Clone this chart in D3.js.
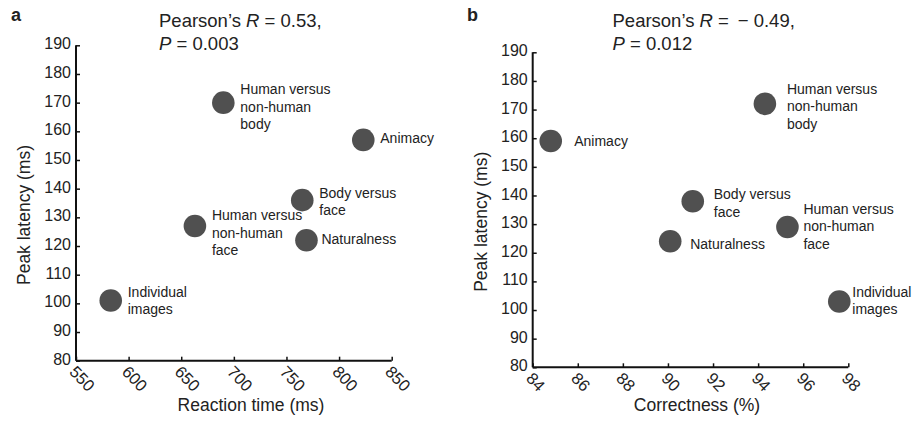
<!DOCTYPE html>
<html>
<head>
<style>
body { margin: 0; background: #fff; }
svg text { font-family: "Liberation Sans", Arial, Helvetica, sans-serif; fill: #222; }
.axis path, .axis line { stroke: #111; }
.axis path { stroke-width: 2px; }
.axis line { stroke-width: 1.5px; }
</style>
</head>
<body>
<svg id="chart" width="914" height="421"></svg>
<script src="https://d3js.org/d3.v7.min.js"></script>
<script>
    // point labels, same order in both panels
    const labelLines = [
        ["Human versus", "non-human", "body"],
        ["Animacy"],
        ["Body versus", "face"],
        ["Human versus", "non-human", "face"],
        ["Naturalness"],
        ["Individual", "images"]
    ];
    // panel a
    const reactionTime = [690, 823, 765, 663, 769, 583];
    const latencyA = [170, 157, 136, 127, 122, 101];
    // panel b
    const correctness = [94.3, 84.8, 91.1, 95.3, 90.1, 97.6];
    const latencyB = [172, 159, 138, 129, 124, 103];

    const xTicksA = [550, 600, 650, 700, 750, 800, 850];
    const xTicksB = [84, 86, 88, 90, 92, 94, 96, 98];
    const yTicks = [80, 90, 100, 110, 120, 130, 140, 150, 160, 170, 180, 190];

    const svg = d3.select("#chart");

    // layout per panel, label nudges are [dx, dy] from the dot centre
    const panels = [
        {letter: "a", lx: 11, left: 76, right: 391.7, top: 45.3, bottom: 360.7,
         xs: reactionTime, ys: latencyA, xDomain: [550, 850], xTicks: xTicksA,
         xTitle: "Reaction time (ms)", xTitleX: 251, r: "0.53,", p: "0.003", tx: 159, yTitleX: 30,
         nudge: [[17, 4], [17, -1.5], [17, 1.5], [17, 7], [15, -1], [17, 0]]},
        {letter: "b", lx: 467, left: 532.7, right: 848.3, top: 52.3, bottom: 367.3,
         xs: correctness, ys: latencyB, xDomain: [84, 98], xTicks: xTicksB,
         xTitle: "Correctness (%)", xTitleX: 697, r: "\u2009\u2212 0.49,", p: "0.012", tx: 612.5, yTitleX: 487,
         nudge: [[22, 2.5], [23.5, 0], [21, 2], [16, -0.5], [20, 3], [13, -1]]}
    ];

    panels.forEach(pn => {
        const x = d3.scaleLinear().domain(pn.xDomain).range([pn.left, pn.right]);
        const y = d3.scaleLinear().domain([80, 190]).range([pn.bottom, pn.top]);
        const g = svg.append("g");

        // panel letter
        g.append("text").attr("x", pn.lx).attr("y", 21)
            .attr("font-size", "18px").attr("font-weight", "bold").text(pn.letter);

        // statistics title
        const t1 = g.append("text").attr("x", pn.tx).attr("y", 27).attr("font-size", "18.5px");
        t1.append("tspan").text("Pearson\u2019s ");
        t1.append("tspan").attr("font-style", "italic").text("R");
        t1.append("tspan").text(" = " + pn.r);
        const t2 = g.append("text").attr("x", pn.tx).attr("y", 50).attr("font-size", "18.5px");
        t2.append("tspan").attr("font-style", "italic").text("P");
        t2.append("tspan").text(" = " + pn.p);

        // y axis
        const ya = g.append("g").attr("class", "axis")
            .attr("transform", `translate(${pn.left},0)`)
            .call(d3.axisLeft(y).tickValues(yTicks).tickSize(-4).tickSizeOuter(0).tickPadding(5));
        ya.selectAll("text").attr("font-size", "16px").attr("fill", "#222").attr("dy", "0.22em");

        // x axis
        const xa = g.append("g").attr("class", "axis")
            .attr("transform", `translate(0,${pn.bottom})`)
            .call(d3.axisBottom(x).tickValues(pn.xTicks).tickSize(-4).tickSizeOuter(0));
        xa.selectAll("text")
            .attr("font-size", "16.5px").attr("fill", "#222")
            .attr("text-anchor", "start")
            .attr("x", 0).attr("y", 0).attr("dy", 0)
            .attr("transform", "translate(-8,12) rotate(46)");
        xa.select(".domain").attr("d", `M${pn.left},0H${pn.right}`);
        ya.select(".domain").attr("d", `M0,${pn.bottom}V${pn.top}`);

        // axis titles
        g.append("text").attr("x", pn.xTitleX).attr("y", 411)
            .attr("text-anchor", "middle").attr("font-size", "17.5px").text(pn.xTitle);
        g.append("text")
            .attr("transform", `translate(${pn.yTitleX},${(pn.top + pn.bottom) / 2 + 12}) rotate(-90)`)
            .attr("text-anchor", "middle").attr("font-size", "17.5px").text("Peak latency (ms)");

        // points
        const pts = pn.xs.map((v, i) => ({x: v, y: pn.ys[i], lines: labelLines[i], nd: pn.nudge[i]}));
        g.selectAll("circle").data(pts).enter().append("circle")
            .attr("cx", d => x(d.x)).attr("cy", d => y(d.y))
            .attr("r", 11.3).attr("fill", "#505050");

        // labels
        const lh = 17.5;
        const lab = g.selectAll("text.lab").data(pts).enter().append("text")
            .attr("class", "lab")
            .attr("font-size", "14px")
            .attr("x", d => x(d.x) + d.nd[0])
            .attr("y", d => y(d.y) + d.nd[1] - (d.lines.length - 1) * lh / 2);
        lab.selectAll("tspan").data(d => d.lines).enter().append("tspan")
            .attr("x", function() { return this.parentNode.getAttribute("x"); })
            .attr("dy", (d, i) => i === 0 ? "0.35em" : lh)
            .text(d => d);
    });
</script>
</body>
</html>
